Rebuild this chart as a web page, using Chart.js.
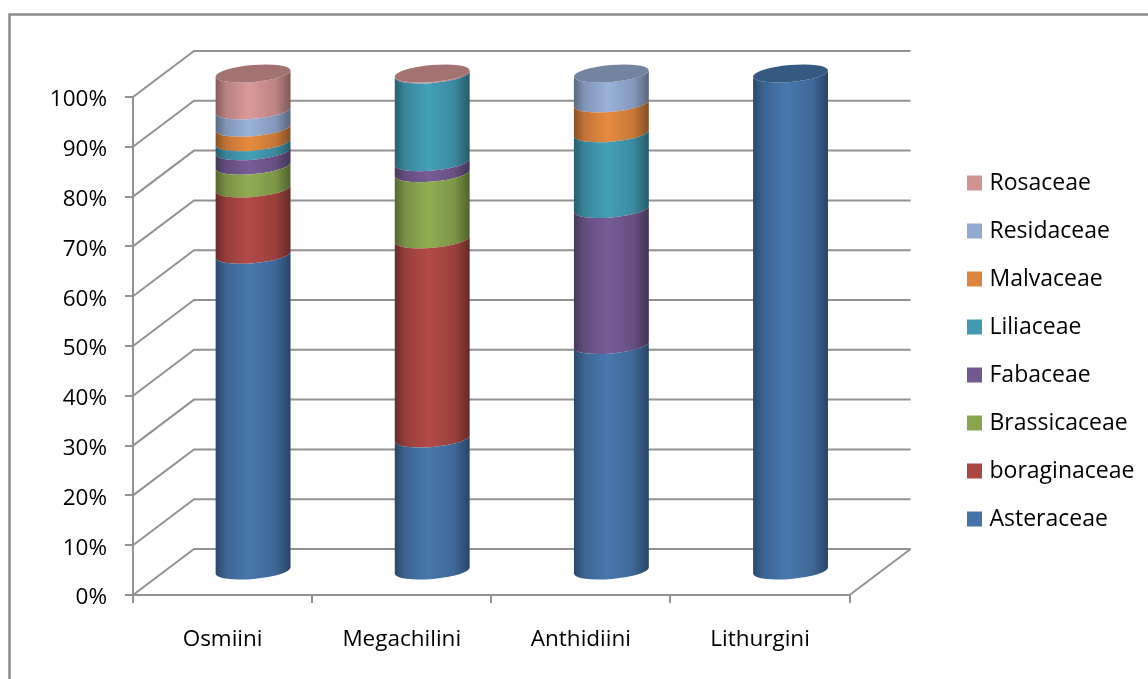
<!DOCTYPE html>
<html>
<head>
<meta charset="utf-8">
<script src="https://cdn.jsdelivr.net/npm/chart.js@4/dist/chart.umd.min.js"></script>
<style>
  html, body { margin: 0; padding: 0; background: #fff; }
  #wrap { width: 1148px; height: 679px; }
</style>
</head>
<body>
<div id="wrap"><canvas id="tribeChart" width="1148" height="679"></canvas></div>
<script>
var tribes = ["Osmiini", "Megachilini", "Anthidiini", "Lithurgini"];

var asteraceae = [63.6, 26.7, 45.5, 100];
var boraginaceae = [13.3, 40, 0, 0];
var brassicaceae = [4.6, 13.3, 0, 0];
var fabaceae = [2.9, 2.2, 27.3, 0];
var liliaceae = [1.8, 17.6, 15.2, 0];
var malvaceae = [2.9, 0, 6, 0];
var residaceae = [3.5, 0, 6, 0];
var rosaceae = [7.4, 0.2, 0, 0];

var familyNames = ["Asteraceae", "boraginaceae", "Brassicaceae", "Fabaceae", "Liliaceae", "Malvaceae", "Residaceae", "Rosaceae"];
var familyValues = [asteraceae, boraginaceae, brassicaceae, fabaceae, liliaceae, malvaceae, residaceae, rosaceae];
var familyColors = ["#4572A7", "#AA4643", "#89A54E", "#71588F", "#4198AF", "#DB843D", "#93A9CF", "#D19392"];

var GRAY = "#929292";
var FONT = "Open Sans";
var AXIS_FONT_SIZE = 22.5;
var LEGEND_FONT_SIZE = 23;
var WALL_DX = 61;
var WALL_DY = 46;
var TILT = -5 * Math.PI / 180;
var CAP_RY = 8.5;

function shade(hex, k) {
    var n = parseInt(hex.slice(1), 16);
    var part = function (v) { return Math.min(255, Math.round(v * k)); };
    return "rgb(" + part(n >> 16) + "," + part((n >> 8) & 255) + "," + part(n & 255) + ")";
}

// outer frame, runs off the right and bottom of the page
var framePlugin = {
    id: "frame",
    beforeDraw: function (chart) {
        var ctx = chart.ctx;
        ctx.save();
        ctx.fillStyle = "#fff";
        ctx.fillRect(0, 0, chart.width, chart.height);
        ctx.strokeStyle = "#8a8a8a";
        ctx.lineWidth = 2.5;
        ctx.beginPath();
        ctx.moveTo(9.5, chart.height + 5);
        ctx.lineTo(9.5, 14.5);
        ctx.lineTo(chart.width + 5, 14.5);
        ctx.stroke();
        ctx.restore();
    }
};

// slanted side wall and back wall lines, one per y tick
var wallPlugin = {
    id: "walls",
    beforeDatasetsDraw: function (chart) {
        var ctx = chart.ctx;
        var yScale = chart.scales.y;
        var area = chart.chartArea;
        ctx.save();
        ctx.strokeStyle = GRAY;
        ctx.lineWidth = 2;
        yScale.ticks.forEach(function (t) {
            var y = yScale.getPixelForValue(t.value);
            ctx.beginPath();
            ctx.moveTo(area.left, y);
            ctx.lineTo(area.left + WALL_DX, y - WALL_DY);
            ctx.lineTo(area.right + WALL_DX, y - WALL_DY);
            ctx.stroke();
        });
        // floor edge on the right
        ctx.beginPath();
        ctx.moveTo(area.right, area.bottom);
        ctx.lineTo(area.right + WALL_DX, area.bottom - WALL_DY);
        ctx.stroke();
        ctx.restore();
    }
};

// replaces the flat bars with cylinder pieces, sitting halfway into the floor
var cylinderPlugin = {
    id: "cylinders",
    beforeDatasetDraw: function (chart, args) {
        var ctx = chart.ctx;
        var color = familyColors[args.index];
        args.meta.data.forEach(function (bar, i) {
            var value = familyValues[args.index][i];
            if (!value) return;
            var p = bar.getProps(["x", "y", "base", "width"], true);
            var cx = p.x + WALL_DX / 2;
            var top = p.y - WALL_DY / 2 - 0.5;
            var bottom = p.base - WALL_DY / 2 - 0.5;
            var r = p.width / 2 / Math.cos(TILT);

            var grad = ctx.createLinearGradient(cx - p.width / 2, 0, cx + p.width / 2, 0);
            grad.addColorStop(0, shade(color, 0.62));
            grad.addColorStop(0.14, shade(color, 0.88));
            grad.addColorStop(0.45, shade(color, 1.05));
            grad.addColorStop(0.8, shade(color, 0.9));
            grad.addColorStop(1, shade(color, 0.6));

            ctx.save();
            ctx.fillStyle = grad;
            ctx.beginPath();
            ctx.ellipse(cx, bottom, r, CAP_RY, TILT, 0, Math.PI, false);
            ctx.ellipse(cx, top, r, CAP_RY, TILT, Math.PI, 0, true);
            ctx.closePath();
            ctx.fill();

            // only the last non-zero family in a column gets the lid
            var hasAbove = familyValues.slice(args.index + 1).some(function (s) { return s[i] > 0; });
            if (!hasAbove) {
                ctx.fillStyle = shade(color, 0.78);
                ctx.beginPath();
                ctx.ellipse(cx, top, r, CAP_RY, TILT, 0, Math.PI * 2);
                ctx.fill();
            }
            ctx.restore();
        });
        return false;
    }
};

// legend keeps its own layout, but sits further right than the plot edge
var legendPlugin = {
    id: "legendShift",
    afterLayout: function (chart) {
        var legend = chart.legend;
        legend.left = 946;
        legend.right = chart.width;
        legend.top -= 37;
        legend.bottom -= 37;
    }
};

var datasets = familyNames.map(function (name, i) {
    return {
        label: name,
        data: familyValues[i],
        backgroundColor: familyColors[i],
        borderColor: familyColors[i],
        borderWidth: 8, // thick key outline, lets the label sit closer to the swatch
        stack: "all",
        barPercentage: 0.418,
        categoryPercentage: 1
    };
});

var ctxB = document.getElementById("tribeChart").getContext("2d");
var tribeChart = new Chart(ctxB, {
    type: "bar",
    plugins: [framePlugin, wallPlugin, cylinderPlugin, legendPlugin],
    data: { labels: tribes, datasets: datasets },
    options: {
        responsive: false,
        animation: false,
        layout: { padding: { top: 97, right: 100, left: 0, bottom: 0 } },
        plugins: {
            title: { display: false },
            tooltip: { enabled: false },
            legend: {
                position: "right",
                reverse: true,
                labels: {
                    boxWidth: 7,
                    boxHeight: 7,
                    padding: 25,
                    color: "#000",
                    font: { family: FONT, size: LEGEND_FONT_SIZE }
                }
            }
        },
        scales: {
            x: {
                stacked: true,
                afterFit: function (s) { s.height = 84; },
                border: { color: GRAY, width: 2 },
                grid: { color: GRAY, lineWidth: 2, drawOnChartArea: false, tickLength: 8 },
                ticks: {
                    color: "#000",
                    padding: 23,
                    maxRotation: 0,
                    font: { family: FONT, size: AXIS_FONT_SIZE }
                }
            },
            y: {
                stacked: true,
                min: 0,
                max: 100,
                afterFit: function (s) { s.width = 133; },
                border: { color: GRAY, width: 2 },
                grid: { color: GRAY, lineWidth: 2, drawOnChartArea: false, tickLength: 8 },
                ticks: {
                    stepSize: 10,
                    color: "#000",
                    padding: 18,
                    labelOffset: 3,
                    font: { family: FONT, size: AXIS_FONT_SIZE },
                    callback: function (v) { return v + "%"; }
                }
            }
        }
    }
});
</script>
</body>
</html>
